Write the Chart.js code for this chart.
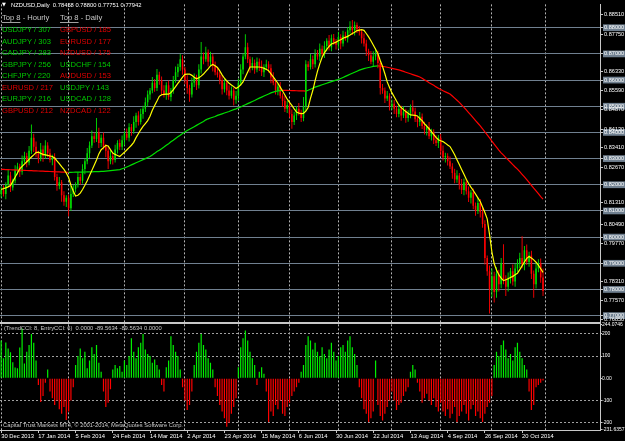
<!DOCTYPE html>
<html><head><meta charset="utf-8">
<script src="https://cdn.jsdelivr.net/npm/chart.js@4.4.1/dist/chart.umd.min.js"></script>
<style>html,body{margin:0;padding:0;background:#000;overflow:hidden}#wrap{width:625px;height:441px;position:relative}</style>
</head><body><div id="wrap"><canvas id="c" width="625" height="441"></canvas></div>
<script>
// ---------- DATA ----------
const firstOpen = 0.8165;
const closes = [
 .8180,.8165,.8200,.8235,.8190,.8215,.8255,.8270,.8250,.8290,.8310,.8285,.8330,.8380,.8345,.8320,
 .8300,.8335,.8310,.8350,.8320,.8295,.8305,.8230,.8195,.8210,.8160,.8135,.8150,.8110,.8165,.8185,.8200,.8230,
 .8215,.8260,.8290,.8320,.8350,.8385,.8375,.8400,.8360,.8380,.8345,.8330,.8290,.8310,.8295,.8335,.8360,.8345,
 .8370,.8395,.8380,.8420,.8405,.8440,.8465,.8440,.8470,.8490,.8515,.8545,.8560,.8590,.8570,.8620,.8600,
 .8560,.8545,.8580,.8535,.8560,.8600,.8630,.8650,.8680,.8640,.8600,.8570,.8545,.8590,.8610,.8580,
 .8640,.8690,.8680,.8705,.8670,.8690,.8655,.8630,.8620,.8600,.8565,.8590,.8560,.8540,.8560,.8525,.8540,
 .8590,.8640,.8690,.8725,.8680,.8650,.8665,.8640,.8670,.8655,.8630,.8650,.8660,.8645,.8610,.8590,.8560,
 .8575,.8540,.8520,.8490,.8505,.8470,.8440,.8465,.8490,.8475,.8455,.8500,.8660,.8650,.8680,.8660,.8700,
 .8690,.8720,.8700,.8730,.8750,.8725,.8760,.8745,.8735,.8765,.8740,.8770,.8760,.8790,.8805,.8790,.8810,.8795,
 .8785,.8760,.8740,.8710,.8695,.8670,.8690,.8700,.8665,.8570,.8560,.8530,.8540,.8500,.8510,.8490,.8470,
 .8490,.8465,.8480,.8455,.8470,.8495,.8480,.8450,.8440,.8460,.8425,.8410,.8420,.8385,.8400,.8370,.8360,.8380,
 .8330,.8305,.8310,.8290,.8270,.8245,.8220,.8235,.8200,.8180,.8210,.8175,.8150,.8170,.8120,.8100,.8130,
 .8095,.8050,.7920,.7870,.7800,.7850,.7790,.7860,.7820,.7900,.7840,.7810,.7845,.7870,.7830,.7880,.7900,.7920,.7895,.7950,.7905,.7930,.7860,.7820,.7880,.7900,.7846,.7794
];
// upper / lower shadow lengths in pips
const wickUp = [
 12,18,10,25,15,8,20,14,10,22,16,12,18,50,15,20,
 10,25,15,20,12,18,10,15,12,20,8,15,10,12,30,15,10,18,
 12,18,10,20,15,22,14,55,18,12,20,10,15,22,12,18,10,14,
 18,10,20,15,12,22,10,16,20,12,18,15,10,22,14,22,12,
 14,20,12,18,10,16,22,12,20,15,10,18,12,20,15,10,
 20,55,15,22,12,18,10,16,20,12,18,14,10,20,15,12,18,
 15,20,12,50,18,10,22,14,16,12,20,10,18,12,15,20,10,
 12,18,10,20,15,12,18,14,10,22,12,35,16,12,20,14,18,
 15,20,12,18,10,22,14,16,12,20,10,18,15,12,20,25,14,10,
 12,10,18,14,10,16,20,22,12,10,15,12,18,10,16,14,12,
 18,12,20,10,15,12,28,14,10,18,12,16,10,20,14,12,18,10,
 14,20,12,10,18,12,16,20,10,22,14,12,18,10,16,12,20,
 16,20,14,10,22,30,18,25,15,20,73,14,20,12,25,18,15,20,83,16,22,14,18,12,20,15,18,34
];
const wickDn = [
 15,10,20,8,18,12,10,16,20,12,8,18,10,12,20,15,
 18,10,22,12,15,10,20,14,18,12,25,15,20,30,10,12,15,10,
 15,10,20,12,18,10,14,12,20,16,10,25,30,12,18,10,16,12,
 12,20,10,15,18,10,22,14,10,18,12,16,20,10,15,12,18,
 18,12,20,10,16,12,10,18,14,20,15,22,28,12,16,18,
 12,15,20,10,18,14,22,12,10,16,20,12,18,14,10,22,15,
 20,12,18,10,15,22,12,16,10,20,14,18,12,16,22,10,15,
 18,10,22,12,16,14,26,12,18,10,15,12,20,14,10,18,12,
 12,18,10,16,20,12,15,10,18,14,22,12,10,16,12,18,20,15,
 15,20,12,18,22,10,16,14,20,25,12,18,10,16,14,20,12,
 12,20,10,18,14,16,12,10,20,15,12,18,22,10,16,14,12,20,
 18,12,20,16,10,22,14,12,18,15,20,12,16,22,14,18,12,
 20,14,25,18,92,30,40,22,28,15,20,35,18,22,15,20,12,18,14,22,12,18,20,52,16,14,20,19
];
const fastMA = [
 .8182,.8185,.8188,.8192,.8197,.8213,.8229,.8245,.8261,.8270,
 .8279,.8288,.8297,.8306,.8314,.8323,.8325,.8320,.8316,.8314,
 .8312,.8310,.8308,.8302,.8291,.8281,.8269,.8259,.8245,.8228,
 .8198,.8176,.8157,.8160,.8168,.8182,.8198,.8215,.8235,.8255,
 .8275,.8295,.8318,.8334,.8342,.8350,.8348,.8334,.8321,.8316,
 .8312,.8308,.8316,.8324,.8333,.8342,.8351,.8362,.8380,.8395,
 .8410,.8423,.8434,.8445,.8462,.8485,.8503,.8520,.8538,.8544,
 .8545,.8546,.8546,.8552,.8563,.8575,.8587,.8599,.8611,.8622,
 .8623,.8623,.8618,.8611,.8605,.8609,.8615,.8623,.8633,.8643,
 .8654,.8660,.8655,.8648,.8635,.8620,.8607,.8597,.8588,.8581,
 .8575,.8568,.8573,.8582,.8593,.8612,.8631,.8650,.8650,.8650,
 .8650,.8650,.8648,.8645,.8641,.8636,.8624,.8612,.8600,.8588,
 .8573,.8558,.8543,.8527,.8515,.8503,.8490,.8478,.8474,.8472,
 .8473,.8481,.8495,.8530,.8560,.8598,.8633,.8662,.8687,.8704,
 .8717,.8729,.8738,.8741,.8745,.8750,.8754,.8760,.8763,.8767,
 .8772,.8778,.8783,.8789,.8791,.8793,.8790,.8778,.8765,.8750,
 .8734,.8718,.8701,.8675,.8652,.8624,.8593,.8572,.8552,.8536,
 .8520,.8505,.8495,.8487,.8480,.8473,.8467,.8466,.8465,.8463,
 .8453,.8445,.8433,.8424,.8414,.8403,.8392,.8381,.8372,.8368,
 .8365,.8359,.8352,.8346,.8331,.8315,.8296,.8277,.8258,.8240,
 .8221,.8205,.8191,.8178,.8164,.8150,.8136,.8115,.8094,.8070,
 .8010,.7944,.7899,.7874,.7856,.7843,.7834,.7837,.7841,.7846,
 .7850,.7856,.7862,.7876,.7890,.7905,.7919,.7926,.7920,.7913,
 .7904,.7893,.7879,.7865
];
const slowMA = [
 .82590,.82586,.82582,.82578,.82574,.82570,.82566,.82562,.82558,.82554,.82550,.82546,.82542,.82538,.82534,.82530,.82526,.82522,.82518,.82514,.82510,.82506,.82502,.82498,.82494,.82490,.82486,.82482,.82478,
 .82474,.82476,.82478,.82480,.82482,.82484,.82486,.82488,.82490,.82493,.82496,.82499,.82502,.82505,.82508,.8251,.8252,.8253,.8254,.8255,.8256,.8257,.8258,
 .8261,.8264,.8268,.8272,.8276,.8280,.8284,.8288,.8292,.8296,.8300,.8304,.8308,
 .8314,.8320,.8327,.8332,
 .8338,.8344,.8351,.8357,.8364,.8370,.8377,.8383,.8389,.8396,.8402,
 .8407,.8412,.8417,.8422,.8427,.8432,.8437,.8442,.8448,.8452,
 .8455,.8458,.8461,.8465,.8468,.8471,.8474,.8477,.8480,.8484,.8487,.8490,.8494,.8497,
 .8502,.8506,.8510,.8514,.8518,.8522,.8527,.8531,.8535,.8539,.8543,.8547,.8551,
 .8554,.8557,.8559,.8560,.8561,
 .85608,.85605,.85602,.85599,.85596,.85593,.85590,.85587,.85584,.85580,
 .8561,.8565,.8569,.8573,.8576,
 .8579,.8582,.8585,.8588,.8591,.8594,.8597,.8600,.8602,
 .8606,.8610,.8614,.8618,.8622,.8626,.8630,.8634,.8638,.8641,
 .8644,.8646,.8648,.8650,.8652,.8653,.8654,
 .8653,.8652,.8651,.8649,.8647,.8645,.8643,.8641,.8639,
 .8636,.8633,.8630,.8627,.8624,.8621,.8618,.8615,.8612,
 .8607,.8601,.8596,.8590,.8585,.8580,.8574,.8569,.8564,
 .8559,.8555,.8551,.8547,
 .8539,.8531,.8523,.8515,
 .8505,.8496,.8486,.8476,
 .8466,.8456,.8445,.8435,.8425,
 .8414,.8402,.8391,.8379,
 .8367,.8355,.8344,.8332,
 .8322,.8313,.8304,.8295,.8286,.8277,.8268,.8260,
 .8250,.8240,.8230,.8220,.8209,
 .8198,.8187,.8177,.8166,.8155,.8145
];
const cciHist = [
 170,90,161,134,117,72,49,45,139,224,67,120,150,200,160,80,
 -30,-107,-80,-20,40,-60,-90,-120,-100,-140,-160,-130,-188,-150,-100,-40,
 60,100,134,90,120,45,80,140,110,150,70,30,
 -60,-130,-110,-50,
 40,60,45,55,30,80,60,100,180,120,90,140,160,200,130,110,100,70,85,
 60,40,-30,-60,50,80,190,150,120,100,
 40,-40,-100,-143,-120,-60,
 60,120,160,200,150,130,90,70,40,
 -40,-80,-120,-150,-180,-219,-200,-160,-130,-90,
 50,140,180,215,170,120,90,60,
 -30,30,50,20,
 -60,-197,-150,-170,-120,-140,-100,-160,-170,-130,-110,-80,
 -60,-40,-20,30,
 60,150,190,170,130,160,120,100,140,110,90,130,160,120,80,100,140,150,120,170,190,140,110,60,
 -40,-90,-140,-160,-197,-180,-150,80,-120,-170,-190,-160,-130,-100,
 -60,-100,-143,-120,-110,-80,-60,-40,30,
 60,40,-20,
 -60,-110,-90,-70,-100,-120,-90,-130,-150,
 -110,-150,-170,-140,-180,-160,-130,-197,-170,-150,-120,-160,-190,-140,-120,-170,-150,-180,-197,-160,-130,-110,-80,
 60,120,100,150,170,130,90,110,80,140,160,120,90,60,40,
 -60,-143,-120,-40,-30,-20,-10
];
const tickDates = ['30 Dec 2013','17 Jan 2014','5 Feb 2014','24 Feb 2014','14 Mar 2014','2 Apr 2014','23 Apr 2014','15 May 2014','6 Jun 2014','30 Jun 2014','22 Jul 2014','13 Aug 2014','4 Sep 2014','26 Sep 2014','20 Oct 2014'];
const barsPerDateLabel = 16;
const monthStartBars = [0,29,53,79,102,124,145,168,189,211,234];
const totalSlots = 258;
const priceLevels = [0.88,0.87,0.86,0.85,0.84,0.83,0.82,0.81,0.80,0.79,0.78,0.77];
const priceScaleTicks = [0.88510,0.87750,0.86330,0.85590,0.84870,0.84130,0.83410,0.82670,0.81310,0.80490,0.79770,0.78310,0.77570,0.76850];
const cciScaleTicks = [244.0746,200,100,0,-100,-200,-231.6357];
const cciLevels = [200,100,-100,-200];
const symbolLine = 'NZDUSD,Daily  0.78458 0.78800 0.77751 0.77942';
const colHeaders = ['Top 8 - Hourly','Top 8 - Daily'];
const topHourly = [['USDJPY / 307','up'],['AUDJPY / 303','up'],['CADJPY / 283','up'],['GBPJPY / 256','up'],['CHFJPY / 220','up'],['EURUSD / 217','dn'],['EURJPY / 216','up'],['GBPUSD / 212','dn']];
const topDaily = [['GBPUSD / 185','dn'],['EURUSD / 177','dn'],['NZDUSD / 175','dn'],['USDCHF / 154','up'],['AUDUSD / 153','dn'],['USDJPY / 143','up'],['USDCAD / 128','up'],['NZDCAD / 122','dn']];
const indicatorCaption = '(TrendCCI: 8, EntryCCI: 6)  0.0000 -89.5634 -89.5634 0.0000';
const footerCaption = 'Capital Trust Markets MT4, \u00A9 2001-2014, MetaQuotes Software Corp.';

// ---------- derived ----------
const PIP = 0.0001;
const opens = closes.map((c,i)=> i===0 ? firstOpen : closes[i-1]);
const highs = closes.map((c,i)=> Math.max(opens[i],c) + wickUp[i]*PIP);
const lows  = closes.map((c,i)=> Math.min(opens[i],c) - wickDn[i]*PIP);
const labels = Array.from({length: totalSlots}, (_, i) => (i % barsPerDateLabel === 0 && tickDates[i/barsPerDateLabel]) ? tickDates[i/barsPerDateLabel] : '');
const UP='#00e000', DN='#ff0000';
const candleCol = closes.map((c,i)=> c >= opens[i] ? UP : DN);
const isLevel = v => priceLevels.some(l => Math.abs(l - v) < 1e-7);
const FONT = '"Liberation Sans", Arial, sans-serif';
Chart.defaults.font.family = FONT;

const bg = {
  id:'bg',
  beforeDraw(chart){ const c=chart.ctx; c.save(); c.fillStyle='#000'; c.fillRect(0,0,chart.width,chart.height); c.restore(); },
  afterDraw(chart){
    const c = chart.ctx, area = chart.chartArea;
    c.save();
    const yb = chart.scales.y.bottom;
    c.fillStyle = '#c8c8c8';
    c.fillRect(0, Math.round(yb)-1, area.right, 2);
    c.textBaseline = 'middle';
    c.textAlign = 'left';
    c.fillStyle = '#ffffff';
    c.font = '5px "DejaVu Sans"';
    c.fillText('\u25BC', 2, 5);
    c.font = '5.8px ' + FONT;
    c.fillText(symbolLine, 11, 5);
    c.font = '7.6px ' + FONT;
    c.fillStyle = '#c8c8c8';
    const colX = [2, 60];
    colHeaders.forEach((h,k)=>{
      c.fillText(h, colX[k], 18);
      const w = c.measureText('Top 8').width;
      c.fillRect(colX[k], 22, w, 0.8);
    });
    [topHourly, topDaily].forEach((rows,k)=>{
      rows.forEach((r,j)=>{
        c.fillStyle = r[1]==='up' ? '#00c800' : '#e00000';
        c.fillText(r[0], colX[k], 30 + j*11.55);
      });
    });
    c.font = '5.8px ' + FONT;
    c.fillStyle = '#c8c8c8';
    c.fillText(indicatorCaption, 4, yb + 6);
    c.fillText(footerCaption, 3, area.bottom - 5);
    c.restore();
  }
};

new Chart(document.getElementById('c'), {
  type:'bar',
  data:{
    labels,
    datasets:[
      { type:'line', label:'fast', data:fastMA, yAxisID:'y', borderColor:'#ffff00', borderWidth:1.2, pointRadius:0, tension:0, order:0 },
      { type:'line', label:'slow', data:slowMA, yAxisID:'y', borderColor:'#00e000', borderWidth:1.2, pointRadius:0, tension:0, order:0,
        segment:{ borderColor: ctx => ctx.p1.parsed.y >= ctx.p0.parsed.y ? '#00e000' : '#ff0000' } },
      { label:'body', data: closes.map((c,i)=>[opens[i], c]), yAxisID:'y', backgroundColor:candleCol, barThickness:1.5, inflateAmount:0, grouped:false, minBarLength:1, order:1 },
      { label:'wick', data: closes.map((c,i)=>[lows[i], highs[i]]), yAxisID:'y', backgroundColor:candleCol, barThickness:0.9, inflateAmount:0, grouped:false, order:2 },
      { label:'cci', data: cciHist, yAxisID:'y2', backgroundColor: cciHist.map(v => v >= 0 ? '#00f000' : '#ff0000'), barThickness:1.2, inflateAmount:0, grouped:false, order:3 }
    ]
  },
  options:{
    responsive:false, animation:false, devicePixelRatio:1,
    layout:{padding:{top:2,left:0,right:0,bottom:0}},
    plugins:{legend:{display:false}, tooltip:{enabled:false}},
    scales:{
      x:{
        type:'category', offset:true,
        grid:{ offset:false, lineWidth:1, drawTicks:true, tickLength:3,
          color: ctx => monthStartBars.includes(ctx.index) ? '#b4b4b4' : 'transparent',
          tickColor: ctx => (ctx.index % barsPerDateLabel === 0 && ctx.index/barsPerDateLabel < tickDates.length) ? '#c8c8c8' : 'transparent' },
        border:{ display:true, color:'#c8c8c8', width:1, dash:[2,2] },
        ticks:{ autoSkip:false, maxRotation:0, minRotation:0, align:'start', padding:0, color:'#ffffff', font:{size:5.8},
          callback:(v,i)=> labels[i] },
        afterFit: s => { s.height = 11; }
      },
      y:{
        type:'linear', position:'right', stack:'panes', stackWeight:320,
        min:0.767339, max:0.888929,
        afterBuildTicks: s => { s.ticks = priceLevels.concat(priceScaleTicks).map(v=>({value:v})); },
        afterFit: s => { s.width = 25; },
        grid:{ lineWidth:1, tickLength:3, tickColor:'#c8c8c8',
          color: ctx => (ctx.tick && isLevel(ctx.tick.value)) ? '#708090' : 'transparent' },
        border:{ display:true, color:'#c8c8c8', width:1 },
        ticks:{ autoSkip:false, padding:1, color:'#ffffff', font:{size:5.6},
          callback: v => Number(v).toFixed(5),
          showLabelBackdrop: ctx => !!(ctx.tick && isLevel(ctx.tick.value)),
          backdropColor:'#708090', backdropPadding:{top:0,bottom:0,left:1,right:1} }
      },
      y2:{
        type:'linear', position:'right', stack:'panes', stackWeight:108,
        min:-233.2, max:251.1,
        afterBuildTicks: s => { s.ticks = cciScaleTicks.map(v=>({value:v})); },
        afterFit: s => { s.width = 25; },
        grid:{ lineWidth:1, tickLength:2, tickColor:'#c8c8c8',
          color: ctx => (ctx.tick && cciLevels.includes(ctx.tick.value)) ? '#a0a0a0' : 'transparent' },
        border:{ display:true, color:'#c8c8c8', width:1, dash:[2,2] },
        ticks:{ autoSkip:false, padding:0, color:'#ffffff', font:{size:5},
          callback: v => (v === 0 ? '0.00' : String(v)) }
      }
    }
  },
  plugins:[bg]
});
</script>
</body></html>
